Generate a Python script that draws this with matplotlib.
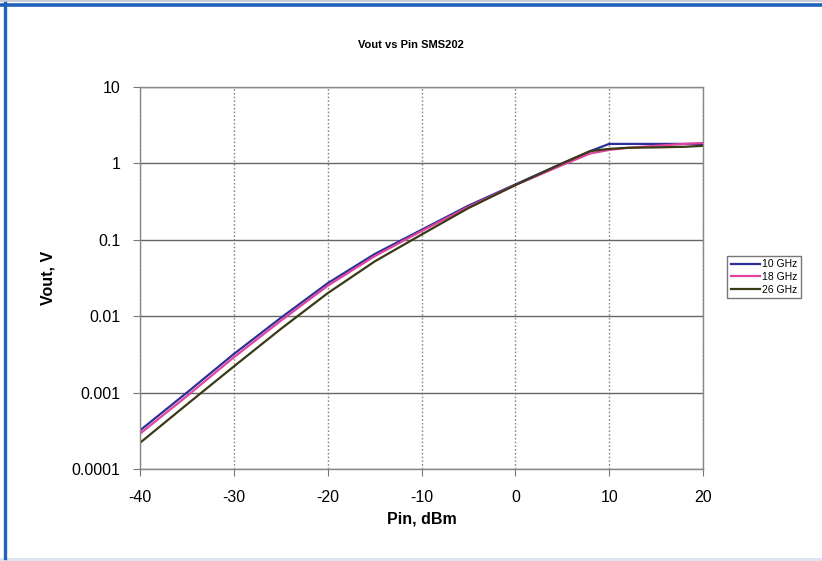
import matplotlib
matplotlib.use("Agg")
import matplotlib.pyplot as plt
from matplotlib.lines import Line2D
from matplotlib.patches import Rectangle

# Pin in dBm
pin = [-40, -35, -30, -25, -20, -15, -10, -5, 0, 5, 8, 10, 12, 15, 18, 20]

# Vout in V
vout_10ghz = [3.2e-4, 1.0e-3, 3.2e-3, 9.5e-3, 0.027, 0.065, 0.135, 0.28, 0.53,
              1.0, 1.45, 1.8, 1.8, 1.8, 1.8, 1.8]
vout_18ghz = [2.9e-4, 9.0e-4, 2.9e-3, 8.7e-3, 0.025, 0.061, 0.13, 0.27, 0.52,
              0.95, 1.35, 1.5, 1.6, 1.7, 1.8, 1.85]
vout_26ghz = [2.2e-4, 7.0e-4, 2.2e-3, 6.8e-3, 0.020, 0.052, 0.117, 0.26, 0.52,
              1.0, 1.45, 1.55, 1.6, 1.62, 1.65, 1.7]

series_names = ["10 GHz", "18 GHz", "26 GHz"]
x_ticks = [-40, -30, -20, -10, 0, 10, 20]
y_ticks = [1e-4, 1e-3, 1e-2, 1e-1, 1, 10]
y_tick_labels = ["0.0001", "0.001", "0.01", "0.1", "1", "10"]

plt.rcParams["font.family"] = ["Liberation Sans", "DejaVu Sans"]

W, H = 822, 561
fig = plt.figure(figsize=(W / 100, H / 100), dpi=100)

# page decoration: grey strip on top, blue rule top and left, pale strip at bottom
fig.patches.append(Rectangle((0, 1 - 2 / H), 1, 2 / H, transform=fig.transFigure,
                             facecolor="#c8ccd4", edgecolor="none", zorder=-1))
fig.patches.append(Rectangle((0, 0), 1, 3 / H, transform=fig.transFigure,
                             facecolor="#dde4f2", edgecolor="none", zorder=-1))
fig.lines.append(Line2D([0, 1], [1 - 4.5 / H, 1 - 4.5 / H], transform=fig.transFigure,
                        color="#1f62b8", linewidth=2.6))
fig.lines.append(Line2D([4.5 / W, 4.5 / W], [3 / H, 1 - 3 / H], transform=fig.transFigure,
                        color="#1f62b8", linewidth=2.4))

ax = fig.add_axes([140 / W, 1 - 469 / H, 563 / W, 382 / H])

colors = ["#2e2f96", "#e0449e", "#3a3a16"]
for vals, name, c in zip([vout_10ghz, vout_18ghz, vout_26ghz], series_names, colors):
    ax.plot(pin, vals, color=c, linewidth=1.6, label=name)

ax.set_yscale("log")
ax.set_xlim(-40, 20)
ax.set_ylim(1e-4, 10)
ax.set_xticks(x_ticks)
ax.set_xticklabels([str(v) for v in x_ticks])
ax.set_yticks(y_ticks)
ax.set_yticklabels(y_tick_labels)
ax.minorticks_off()
ax.tick_params(labelsize=11.5, length=5, color="#777777")
ax.tick_params(axis="x", pad=10)
ax.tick_params(axis="y", pad=9)

ax.grid(axis="y", color="#666666", linewidth=1.0, linestyle="-")
ax.grid(axis="x", color="#888888", linewidth=1.0, linestyle=(0, (1.2, 1.5)))
for s in ax.spines.values():
    s.set_color("#888888")
    s.set_linewidth(1.0)

ax.set_xlabel("Pin, dBm", fontsize=11.5, fontweight="bold", labelpad=5)
ax.set_ylabel("Vout, V", fontsize=11.5, fontweight="bold", labelpad=12)
fig.text(0.5, 1 - 45 / H, "Vout vs Pin SMS202", ha="center", va="center",
         fontsize=8, fontweight="bold")

leg = ax.legend(loc="center left", bbox_to_anchor=(727 / W, 1 - 277 / H),
                bbox_transform=fig.transFigure, fontsize=7.5, frameon=True,
                fancybox=False, edgecolor="#555555", handlelength=2.8,
                handletextpad=0.2, borderpad=0.35, labelspacing=0.25,
                borderaxespad=0)
leg.get_frame().set_linewidth(1.0)

fig.savefig("out.png", dpi=100)
